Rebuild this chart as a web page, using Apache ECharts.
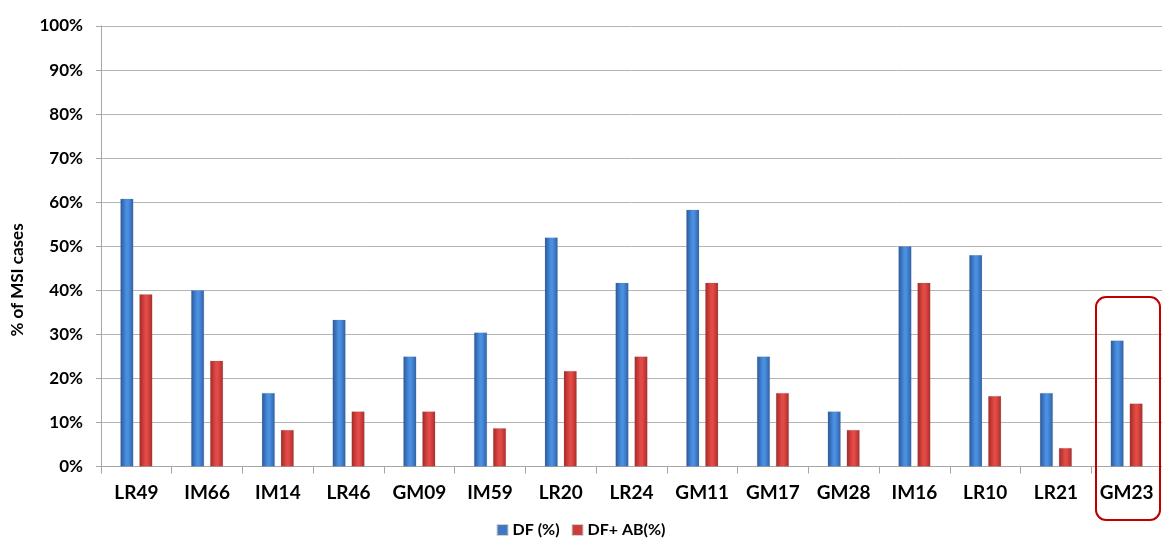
<!DOCTYPE html>
<html>
<head>
<meta charset="utf-8">
<script src="https://cdn.jsdelivr.net/npm/echarts@6/dist/echarts.min.js"></script>
<style>
html,body{margin:0;padding:0;background:#fff;}
#chart{width:1162px;height:541px;}
</style>
</head>
<body>
<div id="chart"></div>
<script>
var categories = ['LR49','IM66','IM14','LR46','GM09','IM59','LR20','LR24','GM11','GM17','GM28','IM16','LR10','LR21','GM23'];
var dfValues = [60.8, 40.0, 16.7, 33.3, 25.0, 30.4, 52.0, 41.7, 58.3, 25.0, 12.5, 50.0, 48.0, 16.7, 28.6];
var dfAbValues = [39.1, 24.0, 8.3, 12.5, 12.5, 8.7, 21.7, 25.0, 41.7, 16.7, 8.3, 41.7, 16.0, 4.2, 14.3];
var yTicks = [0, 10, 20, 30, 40, 50, 60, 70, 80, 90, 100];
var seriesNames = ['DF (%)', 'DF+ AB(%)'];
var yTitle = '% of MSI cases';

var FONT = 'Lato, "Open Sans", "DejaVu Sans", sans-serif';

function hGrad(edge, mid, edge2) {
  return new echarts.graphic.LinearGradient(0, 0, 1, 0, [
    {offset: 0, color: edge},
    {offset: 0.45, color: mid},
    {offset: 0.6, color: mid},
    {offset: 1, color: edge2}
  ]);
}

var chart = echarts.init(document.getElementById('chart'), null, {renderer: 'canvas'});
chart.setOption({
  animation: false,
  backgroundColor: '#ffffff',
  grid: {left: 101, right: -6, top: 26, bottom: 74.5, containLabel: false},
  legend: {
    bottom: -2,
    left: 'center',
    icon: 'rect',
    itemWidth: 10,
    itemHeight: 10,
    itemGap: 12,
    textStyle: {fontFamily: FONT, fontWeight: 'bold', fontSize: 16, color: '#000'},
    data: [
      {name: seriesNames[0], itemStyle: {color: '#3b78c8'}},
      {name: seriesNames[1], itemStyle: {color: '#d03a37'}}
    ]
  },
  xAxis: {
    type: 'category',
    data: categories,
    boundaryGap: true,
    axisLine: {lineStyle: {color: '#a6a6a6', width: 1}},
    axisTick: {show: true, length: 7, lineStyle: {color: '#a6a6a6'}},
    axisLabel: {fontFamily: FONT, fontWeight: 'bold', fontSize: 19, color: '#000', margin: 17, interval: 0}
  },
  yAxis: {
    type: 'value',
    min: yTicks[0],
    max: yTicks[yTicks.length - 1],
    interval: 10,
    axisLine: {show: true, lineStyle: {color: '#a6a6a6'}},
    axisTick: {show: true, length: 5, lineStyle: {color: '#a6a6a6'}},
    axisLabel: {fontFamily: FONT, fontWeight: 'bold', fontSize: 17, color: '#000', margin: 18, formatter: '{value}%'},
    splitLine: {lineStyle: {color: '#b4b4b4', width: 1}}
  },
  series: [
    {
      name: seriesNames[0],
      type: 'bar',
      data: dfValues,
      barWidth: 13,
      barGap: '46%',
      itemStyle: {
        color: hGrad('#28579a', '#4a8fe0', '#2d60a6'),
        borderColor: 'rgba(120,120,120,0.35)',
        borderWidth: 0.5
      }
    },
    {
      name: seriesNames[1],
      type: 'bar',
      data: dfAbValues,
      barWidth: 13,
      itemStyle: {
        color: hGrad('#a22825', '#e24a46', '#aa2c29'),
        borderColor: 'rgba(120,120,120,0.35)',
        borderWidth: 0.5
      }
    }
  ],
  graphic: [
    {
      type: 'text',
      x: 18,
      y: 280,
      rotation: Math.PI / 2,
      style: {
        text: yTitle,
        fontFamily: FONT,
        fontWeight: 'bold',
        fontSize: 17,
        fill: '#000',
        align: 'center',
        verticalAlign: 'middle'
      }
    },
    {
      type: 'rect',
      shape: {x: 1096, y: 297, width: 64, height: 223, r: 10},
      style: {fill: 'none', stroke: '#c00000', lineWidth: 2},
      z: 100
    }
  ]
});
</script>
</body>
</html>
